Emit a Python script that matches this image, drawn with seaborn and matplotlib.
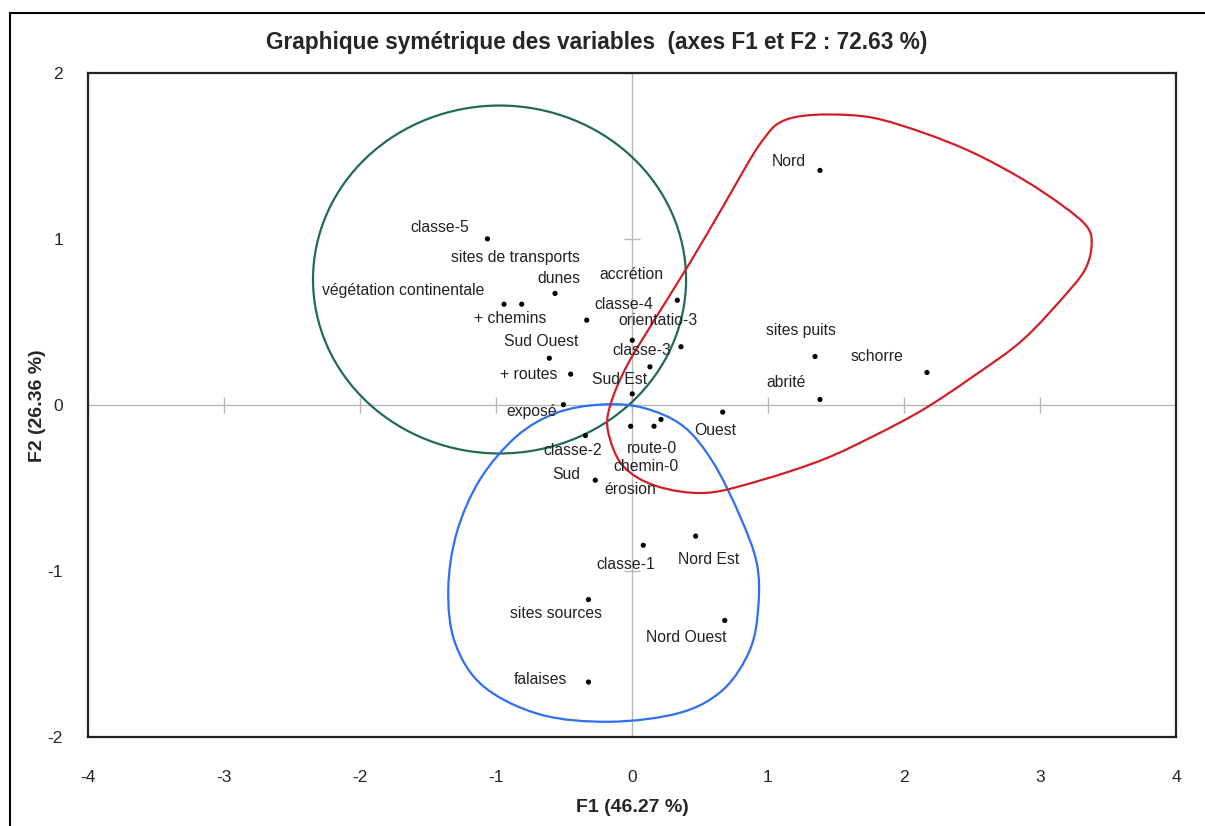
import numpy as np
import pandas as pd
import matplotlib
matplotlib.use("Agg")
import matplotlib.pyplot as plt
from matplotlib.patches import Ellipse, PathPatch
from matplotlib.path import Path
from matplotlib.lines import Line2D
import seaborn as sns

# modalities and their coordinates on F1 / F2
labels = ["classe-5", "dunes", "végétation continentale", "+ chemins", "sites de transports",
          "accrétion", "classe-4", "orientatio-3", "Sud Ouest", "+ routes", "classe-3",
          "Sud Est", "exposé", "Ouest", "route-0", "chemin-0", "érosion", "classe-2", "Sud",
          "classe-1", "Nord Est", "sites sources", "Nord Ouest", "falaises", "Nord",
          "sites puits", "schorre", "abrité"]
f1 = [-1.063, -0.566, -0.941, -0.811, -0.333, 0.002, 0.333, 0.360, -0.608, -0.451, 0.132,
      0.002, -0.504, 0.667, 0.162, -0.010, 0.213, -0.343, -0.270, 0.083, 0.468, -0.320,
      0.682, -0.320, 1.382, 1.346, 2.169, 1.382]
f2 = [1.001, 0.672, 0.607, 0.607, 0.511, 0.390, 0.631, 0.351, 0.282, 0.186, 0.230, 0.067,
      0.002, -0.043, -0.128, -0.128, -0.087, -0.184, -0.453, -0.845, -0.790, -1.172,
      -1.298, -1.669, 1.413, 0.292, 0.196, 0.033]

# label offsets from the point (pixels)
label_dx = [-48, 4, -101, -12, -71, -1, -53, -23, -8, -42, -8, -13, -32, -7, -2, 15, -31,
            -13, -29, -18, 13, -32, -39, -48, -31, -14, -50, -34]
label_dy = [11, 15, 14, -14, 63, 66, -4, 26, 17, 0, 16, 14, -7, -18, -22, -40, -70, -15, 6,
            -19, -23, -14, -17, 3, 9, 26, 16, 17]

# hand drawn group outlines
green_center = (-0.974, 0.756)
green_size = (2.743, 2.096)
blue_x = [-0.223, 0.083, 0.377, 0.598, 0.794, 0.917, 0.929, 0.868, 0.671, 0.353, -0.162,
          -0.676, -1.093, -1.301, -1.351, -1.289, -1.118, -0.848, -0.554]
blue_y = [0.003, -0.017, -0.128, -0.348, -0.670, -0.951, -1.212, -1.473, -1.714, -1.854,
          -1.908, -1.864, -1.694, -1.433, -1.111, -0.770, -0.449, -0.188, -0.047]
red_x = [0.965, 1.064, 1.211, 1.456, 1.774, 2.142, 2.510, 2.877, 3.171, 3.343, 3.380, 3.343,
         3.221, 2.877, 2.510, 2.142, 1.774, 1.407, 0.965, 0.549, 0.182, -0.064, -0.174,
         -0.162, -0.039, 0.182, 0.426, 0.671, 0.868]
red_y = [1.599, 1.690, 1.736, 1.750, 1.730, 1.640, 1.519, 1.358, 1.198, 1.077, 0.977, 0.836,
         0.696, 0.395, 0.173, -0.027, -0.188, -0.328, -0.449, -0.529, -0.489, -0.369,
         -0.167, -0.007, 0.234, 0.535, 0.857, 1.198, 1.479]

xticks = [-4, -3, -2, -1, 0, 1, 2, 3, 4]
yticks = [-2, -1, 0, 1, 2]

df = pd.DataFrame({"F1": f1, "F2": f2, "label": labels})


def smooth_closed(xs, ys):
    # catmull-rom through the outline points, drawn as bezier segments
    P = np.column_stack([xs, ys])
    n = len(P)
    verts = [P[0]]
    codes = [Path.MOVETO]
    for i in range(n):
        p0, p1, p2, p3 = P[i - 1], P[i], P[(i + 1) % n], P[(i + 2) % n]
        verts += [p1 + (p2 - p0) / 6, p2 - (p3 - p1) / 6, p2]
        codes += [Path.CURVE4] * 3
    return Path(verts, codes)


sns.set_style("white")
plt.rcParams["font.family"] = ["Liberation Sans", "DejaVu Sans"]

fig = plt.figure(figsize=(12.05, 8.26), dpi=100)
ax = fig.add_axes([88 / 1205, 1 - 737 / 826, (1176 - 88) / 1205, (737 - 73) / 826])

# cross through origin with small ticks
ax.axhline(0, color="#b8b8b8", lw=1, zorder=1)
ax.axvline(0, color="#b8b8b8", lw=1, zorder=1)
ax.plot(xticks, [0] * len(xticks), ls="none", marker="|", ms=12, mew=1, color="#b8b8b8", zorder=1)
ax.plot([0] * len(yticks), yticks, ls="none", marker="_", ms=12, mew=1, color="#b8b8b8", zorder=1)

ax.add_patch(Ellipse(green_center, green_size[0], green_size[1], fill=False,
                     ec="#1f6b58", lw=1.6, zorder=2))
ax.add_patch(PathPatch(smooth_closed(blue_x, blue_y), fill=False, ec="#2f6ff2", lw=1.6, zorder=2))
ax.add_patch(PathPatch(smooth_closed(red_x, red_y), fill=False, ec="#d21f26", lw=1.6, zorder=2))

sns.scatterplot(data=df, x="F1", y="F2", color="black", s=14, edgecolor="none", ax=ax, zorder=3)

for i, lab in enumerate(labels):
    ax.annotate(lab, (f1[i], f2[i]), xytext=(label_dx[i], label_dy[i]),
                textcoords="offset pixels", ha="center", va="center",
                fontsize=11.3, color="#222222", zorder=4)

ax.set_xlim(-4, 4)
ax.set_ylim(-2, 2)
ax.set_xticks(xticks)
ax.set_yticks(yticks)
ax.set_xticklabels([str(t) for t in xticks])
ax.set_yticklabels([str(t) for t in yticks])
ax.tick_params(axis="x", length=0, pad=24, labelsize=12.5)
ax.tick_params(axis="y", length=0, pad=18, labelsize=12.5)
ax.set_xlabel("")
ax.set_ylabel("")
for s in ax.spines.values():
    s.set_visible(True)
    s.set_color("#222222")
    s.set_linewidth(1.6)

fig.text(597 / 1205, 1 - 43 / 826, "Graphique symétrique des variables  (axes F1 et F2 : 72.63 %)",
         ha="center", va="center", fontsize=16.3, fontweight="bold")
fig.text(632 / 1205, 1 - 808 / 826, "F1 (46.27 %)", ha="center", va="center",
         fontsize=14, fontweight="bold")
fig.text(38 / 1205, 1 - 406 / 826, "F2 (26.36 %)", ha="center", va="center",
         rotation=90, fontsize=14, fontweight="bold")

# outer frame
fig.add_artist(Line2D([10 / 1205, 10 / 1205], [0, 1 - 13 / 826], color="black", lw=1.5))
fig.add_artist(Line2D([10 / 1205, 1], [1 - 13 / 826, 1 - 13 / 826], color="black", lw=1.5))

fig.savefig("out.png", dpi=100)
